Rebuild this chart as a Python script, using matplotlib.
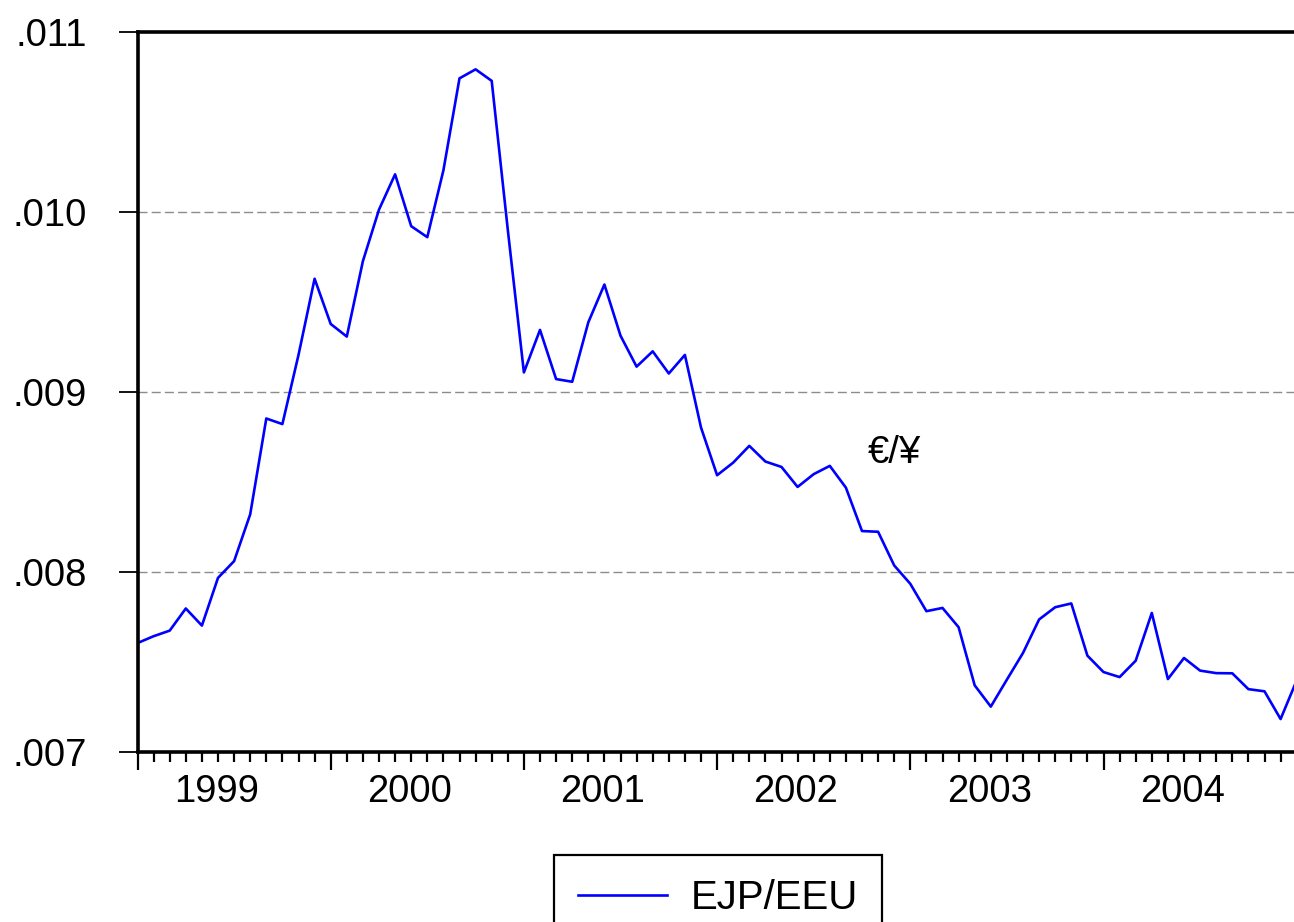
import matplotlib.pyplot as plt
import numpy as np

# monthly EJP/EEU, 1999M01 onwards
ejp_eeu = [
    0.007605, 0.007643, 0.007674, 0.007797, 0.007702, 0.007967,
    0.008060, 0.008320, 0.008852, 0.008821, 0.009205, 0.009628,
    0.009377, 0.009307, 0.009726, 0.010012, 0.010208, 0.009920,
    0.009859, 0.010230, 0.010741, 0.010791, 0.010727, 0.009900,
    0.009108, 0.009344, 0.009071, 0.009056, 0.009386, 0.009596,
    0.009312, 0.009140, 0.009225, 0.009102, 0.009205, 0.008802,
    0.008537, 0.008607, 0.008700, 0.008613, 0.008583, 0.008472,
    0.008543, 0.008589, 0.008468, 0.008227, 0.008223, 0.008036,
    0.007934, 0.007782, 0.007800, 0.007693, 0.007370, 0.007252,
    0.007402, 0.007550, 0.007736, 0.007804, 0.007825, 0.007535,
    0.007444, 0.007416, 0.007507, 0.007772, 0.007405, 0.007522,
    0.007452, 0.007438, 0.007437, 0.007349, 0.007337, 0.007183,
    0.007398,
]
years = [1999, 2000, 2001, 2002, 2003, 2004]
yticks = [0.007, 0.008, 0.009, 0.010, 0.011]

month = np.arange(len(ejp_eeu))

plt.rcParams['font.family'] = ['Liberation Sans', 'DejaVu Sans']
plt.rcParams['lines.scale_dashes'] = False

fig = plt.figure(figsize=(12.94, 9.22), dpi=100)
ax = fig.add_axes([137.5 / 1294, 1 - 752 / 922, 1159.2 / 1294, 720.3 / 922])

ax.plot(month, ejp_eeu, color='blue', linewidth=1.9, label='EJP/EEU')

ax.set_xlim(0, 72)
ax.set_ylim(0.007, 0.011)

# grid lines
for v in yticks[1:-1]:
    ax.axhline(v, color='#8c8c8c', linewidth=1.0, linestyle=(0, (6.5, 3.0)), zorder=0)

# y axis
ax.set_yticks(yticks)
ax.set_yticklabels([('%.3f' % v)[1:] for v in yticks])
ax.tick_params(axis='y', direction='out', length=13.5, width=1.3, pad=23, labelsize=27.5)

# x axis: months minor, years major
ax.set_xticks(np.arange(0, 73, 12))
ax.set_xticks(np.arange(0, 73), minor=True)
ax.set_xticklabels([])
ax.tick_params(axis='x', which='major', direction='out', length=13, width=1.6)
ax.tick_params(axis='x', which='minor', direction='out', length=7.5, width=1.6)
for k, yr in enumerate(years):
    ax.text(k * 12 + 4.9, -0.055, str(yr), transform=ax.get_xaxis_transform(),
            ha='center', va='center', fontsize=27.5)

ax.text(47.0, 0.00866, '€/¥', ha='center', va='center', fontsize=27.5)

for s in ['left', 'top', 'bottom', 'right']:
    ax.spines[s].set_linewidth(2.6)

leg = ax.legend(loc='upper center', bbox_to_anchor=(718 / 1294, 1 - 855 / 922),
                bbox_transform=fig.transFigure, fontsize=29, frameon=True,
                fancybox=False, edgecolor='black', handlelength=2.2,
                handletextpad=0.6, borderpad=0.6, borderaxespad=0)
leg.get_frame().set_linewidth(1.6)
leg.get_frame().set_alpha(1)

fig.savefig('out.png', dpi=100)
